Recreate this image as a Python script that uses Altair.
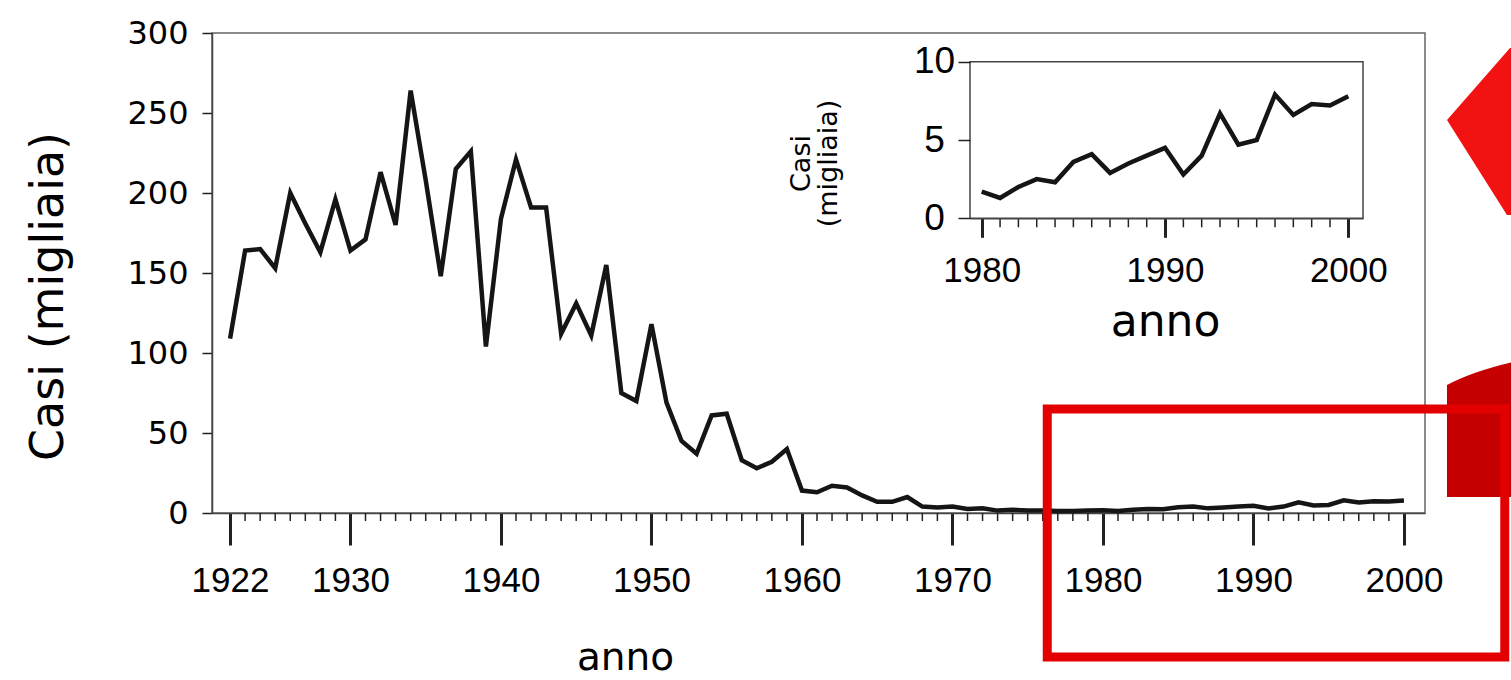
import altair as alt
import pandas as pd

# ---------------- data ----------------
years_early = list(range(1922, 1980))
cases_early = [109, 164, 165, 153, 200, 181, 163, 196, 164, 171,
               213, 180, 264, 208, 148, 215, 226, 104, 184, 221,
               191, 191, 112, 131, 111, 155, 75, 70, 118, 69,
               45, 37, 61, 62, 33, 28, 32, 40, 14, 13,
               17, 16, 11, 7, 7, 10, 4, 3.5, 4, 2.5,
               3, 1.5, 2, 1.5, 1.5, 1.2, 1.3, 1.5]
inset_years = list(range(1980, 2001))
inset_cases = [1.7, 1.3, 2.0, 2.5, 2.3, 3.6, 4.1, 2.9, 3.5, 4.0,
               4.5, 2.8, 4.0, 6.7, 4.7, 5.0, 7.9, 6.6, 7.3, 7.2, 7.8]

years = years_early + inset_years
cases = cases_early + inset_cases

major_years = [1922, 1930, 1940, 1950, 1960, 1970, 1980, 1990, 2000]
inset_major = [1980, 1990, 2000]

main_x_domain = [1920.8, 2001.4]
main_y_domain = [0, 300]
main_y_ticks = [0, 50, 100, 150, 200, 250, 300]

inset_x_domain = [1979.36, 2000.8]
inset_y_domain = [0, 10]
inset_y_ticks = [0, 5, 10]

# annotation shapes, in main-chart data units
box_x = [1976.3, 2006.7]
box_y = [65, -90]
arrow_at = [2002.86, 245.6]
curve_at = [2002.86, 10]

# ---------------- layout ----------------
W, H = 1213, 480
INSET_X_RANGE = [758, 1151]
INSET_Y_RANGE = [185.3, 28.7]

TICK_FONT = "Liberation Sans"
Y_FONT = "DejaVu Sans"
TITLE_FONT = "DejaVu Sans"

main_df = pd.DataFrame({"anno": years, "casi": cases})
inset_df = pd.DataFrame({"ianno": inset_years, "icasi": inset_cases})
minor_df = pd.DataFrame({"m": [y for y in years if y not in major_years]})
iminor_df = pd.DataFrame({"im": [y for y in inset_years if y not in inset_major]})


def xs():
    return alt.Scale(domain=main_x_domain, nice=False, zero=False)


def ys():
    return alt.Scale(domain=main_y_domain, nice=False)


def ixs():
    return alt.Scale(domain=inset_x_domain, range=INSET_X_RANGE, nice=False, zero=False)


def iys():
    return alt.Scale(domain=inset_y_domain, range=INSET_Y_RANGE, nice=False)


main_line = alt.Chart(main_df).mark_line(color="#151515", strokeWidth=4.5).encode(
    x=alt.X("anno:Q", scale=xs(), axis=alt.Axis(
        orient="bottom", values=major_years, format="d",
        tickSize=32, tickWidth=3,
        tickColor="#222", domainColor="#444", domainWidth=1.5,
        labelFont=TICK_FONT, labelFontSize=35, labelColor="black",
        labelPadding=18, labelOverlap=False, labelFlush=False,
        grid=False, title="anno", titleFont=TITLE_FONT, titleFontSize=39,
        titleFontWeight="normal", titleColor="black",
        titleX=413, titleY=144, titleAlign="center", titleBaseline="middle")),
    y=alt.Y("casi:Q", scale=ys(), axis=alt.Axis(
        orient="left", values=main_y_ticks, tickSize=10, tickWidth=1.5,
        tickColor="#222", domainColor="#444", domainWidth=1.5,
        labelFont=Y_FONT, labelFontSize=32, labelColor="black",
        labelPadding=14, labelBaseline="middle", grid=False,
        title="Casi (migliaia)", titleFont=TITLE_FONT, titleFontSize=46,
        titleFontWeight="normal", titleColor="black", titleAngle=270,
        titleX=-164, titleY=263, titleAlign="center", titleBaseline="middle")),
)

minor_ticks = alt.Chart(minor_df).mark_rule(color="#222", strokeWidth=1.5).encode(
    x=alt.X("m:Q", scale=xs(), axis=None),
    y=alt.value(H), y2=alt.value(H + 8))

box_df = pd.DataFrame({"x1": [box_x[0]], "x2": [box_x[1]],
                       "y1": [box_y[0]], "y2": [box_y[1]]})
red_box = alt.Chart(box_df).mark_rect(fillOpacity=0, stroke="#e30000", strokeWidth=9).encode(
    x=alt.X("x1:Q", scale=xs(), axis=None), x2="x2:Q",
    y=alt.Y("y1:Q", scale=ys(), axis=None), y2="y2:Q")

ARROW_PATH = "M 0 0 L 0.63 -0.72 L 1.2 -0.72 L 1.2 0.95 L 0.6 0.95 Z"
CURVE_PATH = "M 0 0 L 0 -1.12 Q 0.3 -1.28 0.8 -1.38 L 0.8 0 Z"

arrow_df = pd.DataFrame({"ax": [arrow_at[0]], "ay": [arrow_at[1]]})
arrow = alt.Chart(arrow_df).mark_point(shape=ARROW_PATH, size=40000, filled=True,
                                       color="#f21212", opacity=1, strokeWidth=0).encode(
    x=alt.X("ax:Q", scale=xs(), axis=None), y=alt.Y("ay:Q", scale=ys(), axis=None))

curve_df = pd.DataFrame({"cx": [curve_at[0]], "cy": [curve_at[1]]})
curve = alt.Chart(curve_df).mark_point(shape=CURVE_PATH, size=40000, filled=True,
                                       color="#c40000", opacity=1, strokeWidth=0).encode(
    x=alt.X("cx:Q", scale=xs(), axis=None), y=alt.Y("cy:Q", scale=ys(), axis=None))

# ---------------- inset ----------------
frame_df = pd.DataFrame({"fx1": [inset_x_domain[0]], "fx2": [inset_x_domain[1]],
                         "fy1": [inset_y_domain[0]], "fy2": [inset_y_domain[1]]})
frame = alt.Chart(frame_df).mark_rect(fill="white", stroke="#444", strokeWidth=1.5).encode(
    x=alt.X("fx1:Q", scale=ixs(), axis=None), x2="fx2:Q",
    y=alt.Y("fy1:Q", scale=iys(), axis=None), y2="fy2:Q")

inset_minor = alt.Chart(iminor_df).mark_rule(color="#222", strokeWidth=1.5).encode(
    x=alt.X("im:Q", scale=ixs(), axis=None),
    y=alt.value(INSET_Y_RANGE[0]), y2=alt.value(INSET_Y_RANGE[0] + 9))

inset_line = alt.Chart(inset_df).mark_line(color="#151515", strokeWidth=4.5).encode(
    x=alt.X("ianno:Q", scale=ixs(), axis=alt.Axis(
        orient="bottom", offset=-(H - INSET_Y_RANGE[0]), values=inset_major, format="d",
        tickSize=19, tickWidth=3,
        tickColor="#222", domainColor="#444", domainWidth=1.5,
        labelFont=TICK_FONT, labelFontSize=35, labelColor="black",
        labelPadding=16, labelOverlap=False, labelFlush=False, grid=False, zindex=2,
        title="anno", titleFont=TITLE_FONT, titleFontSize=44, titleFontWeight="normal",
        titleColor="black", titleX=953, titleY=104, titleAlign="center",
        titleBaseline="middle")),
    y=alt.Y("icasi:Q", scale=iys(), axis=alt.Axis(
        orient="left", offset=-INSET_X_RANGE[0], values=inset_y_ticks,
        tickSize=12, tickWidth=1.5, tickColor="#222", domain=False,
        labelFont=TICK_FONT, labelFontSize=37, labelColor="black",
        labelAlign="center", labelBaseline="middle", labelPadding=24,
        grid=False, zindex=2,
        title=["Casi", "(migliaia)"], titleFont=TITLE_FONT, titleFontSize=27,
        titleFontWeight="normal", titleColor="black", titleAngle=270,
        titleLineHeight=27, titleX=-169, titleY=130, titleAlign="center",
        titleBaseline="middle")),
)

chart = alt.layer(
    main_line, minor_ticks, curve, arrow, red_box, frame, inset_minor, inset_line
).resolve_scale(
    x="independent", y="independent"
).resolve_axis(
    x="independent", y="independent"
).properties(
    width=W, height=H,
    padding={"left": 212, "top": 33, "right": 86, "bottom": 167},
    autosize=alt.AutoSizeParams(type="none"),
    background="white",
).configure_view(stroke="#666", strokeWidth=1.5)

chart.save("out.html", embed_options={"renderer": "svg", "actions": False})
